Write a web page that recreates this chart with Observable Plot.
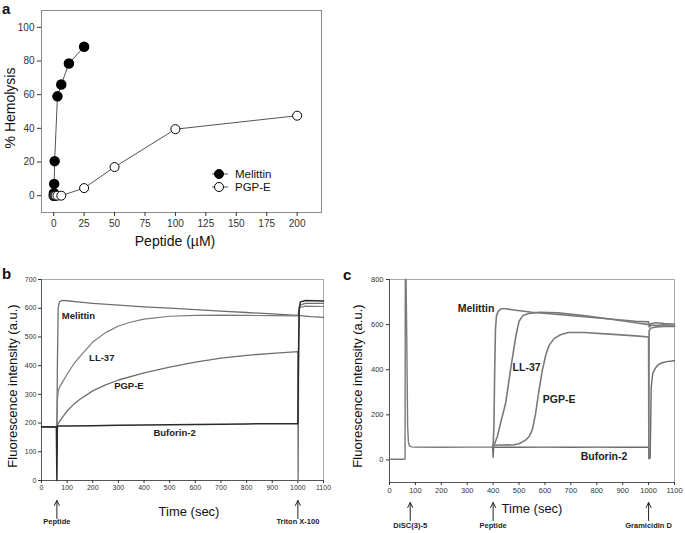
<!DOCTYPE html>
<html><head><meta charset="utf-8">
<script src="https://cdn.jsdelivr.net/npm/d3@7"></script>
<script src="https://cdn.jsdelivr.net/npm/@observablehq/plot@0.6"></script>
<style>
body{margin:0;background:#fff;}
#root{position:relative;width:685px;height:533px;overflow:hidden;background:#fff;}
#root svg{position:absolute;}
</style></head><body><div id="root"></div>
<script>
const FONT = '"Liberation Sans", Arial, Helvetica, sans-serif';

// ---------- Panel a: hemolysis ----------
const aMelX = [0.1, 0.2, 0.4, 0.8, 3.1, 6.25, 12.5, 25];
const aMelY = [0, 1.5, 7, 20.5, 59, 66, 78.5, 88.5];
const aPgpX = [0, 0.8, 1.6, 3.1, 6.25, 25, 50, 100, 200];
const aPgpY = [0, 0, 0, 0, 0, 4.5, 17, 39.5, 47.5];
const aXTicks = [0, 25, 50, 75, 100, 125, 150, 175, 200];
const aYTicks = [0, 20, 40, 60, 80, 100];
const aSeries = ["Melittin", "PGP-E"];

// ---------- Panel b: calcein leakage ----------
const bMelT = [0, 59, 60, 62, 65, 70, 80, 100, 150, 200, 300, 400, 500, 600, 700, 800, 900, 1000, 1050, 1100];
const bMelV = [187, 186, 186, 400, 600, 622, 627, 626, 621, 617, 611, 605, 600, 595, 590, 585, 580, 575, 571, 568];
const bLLT = [0, 59, 60, 62, 65, 70, 80, 100, 125, 150, 200, 250, 300, 350, 400, 500, 600, 700, 800, 900, 1000, 1003, 1008, 1030, 1100];
const bLLV = [187, 186, 190, 280, 310, 325, 340, 370, 405, 432, 482, 515, 538, 552, 562, 572, 575, 576, 575, 574, 573, 590, 603, 607, 606];
const bPgpT = [0, 59, 60, 65, 70, 80, 100, 125, 150, 200, 250, 300, 400, 500, 600, 700, 800, 900, 1000, 1001, 1003, 1006, 1010, 1030, 1100];
const bPgpV = [187, 186, 190, 198, 205, 218, 242, 265, 283, 312, 333, 350, 375, 395, 412, 426, 436, 443, 449, 0, 450, 600, 612, 617, 617];
const bBufT = [0, 58, 60, 62, 100, 200, 300, 400, 500, 600, 700, 800, 900, 1000, 1002, 1005, 1010, 1030, 1100];
const bBufV = [187, 186, 0, 190, 190, 191, 192, 193, 194, 195, 196, 197, 198, 198, 400, 600, 622, 627, 625];
const bXTicks = [0, 100, 200, 300, 400, 500, 600, 700, 800, 900, 1000, 1100];
const bYTicks = [0, 100, 200, 300, 400, 500, 600, 700];
const bLabels = ["Melittin", "LL-37", "PGP-E", "Buforin-2"];
const bLabelT = [144, 235, 341, 519];
const bLabelV = [572, 428, 331, 166];
const bEventT = [60, 1000];
const bEventName = ["Peptide", "Triton X-100"];

// ---------- Panel c: DiSC(3)-5 depolarization ----------
const cBaseT = [0, 59, 60, 61, 64, 67, 70, 73, 77, 85, 100, 200, 300, 398];
const cBaseV = [3, 3, 5, 800, 800, 500, 150, 80, 62, 58, 57, 56, 57, 57];
const cMelT = [398, 400, 403, 406, 409, 413, 420, 430, 450, 480, 550, 650, 750, 850, 950, 1000, 1003, 1010, 1030, 1060, 1100];
const cMelV = [57, 65, 150, 400, 580, 640, 660, 670, 670, 665, 655, 645, 635, 625, 615, 612, 598, 605, 608, 605, 603];
const cLLT = [398, 400, 405, 416, 430, 448, 467, 487, 500, 515, 540, 580, 650, 750, 850, 950, 1000, 1003, 1010, 1030, 1060, 1100];
const cLLV = [57, 65, 70, 103, 170, 250, 398, 545, 615, 640, 650, 655, 652, 640, 625, 608, 600, 590, 598, 596, 600, 595];
const cPgpT = [398, 400, 430, 480, 500, 525, 540, 551, 564, 577, 590, 603, 616, 635, 660, 690, 750, 850, 950, 1000, 1001, 1002, 1005, 1010, 1030, 1060, 1100];
const cPgpV = [57, 65, 66, 67, 72, 88, 105, 133, 206, 309, 398, 464, 508, 538, 555, 565, 565, 558, 550, 545, 5, 570, 580, 585, 590, 592, 592];
const cBufT = [398, 400, 402, 500, 600, 700, 800, 900, 998, 1000, 1002, 1006, 1008, 1010, 1016, 1025, 1035, 1050, 1070, 1100];
const cBufV = [57, 12, 57, 56, 57, 56, 57, 56, 57, 57, 8, 8, 150, 320, 383, 405, 420, 430, 436, 440];
const cXTicks = [0, 100, 200, 300, 400, 500, 600, 700, 800, 900, 1000, 1100];
const cYTicks = [0, 200, 400, 600, 800];
const cLabels = ["Melittin", "LL-37", "PGP-E", "Buforin-2"];
const cLabelT = [334, 529, 655, 828];
const cLabelV = [673, 410, 268, 14];
const cEventT = [80, 400, 1000];
const cEventName = ["DiSC(3)-5", "Peptide", "Gramicidin D"];

// ---------- helpers ----------
const plain = d => String(d);
const pts = (T, V) => T.map((t, i) => ({t, v: V[i]}));
const evts = (T, N) => T.map((t, i) => ({t, name: N[i]}));
const lbls = (N, T, V) => N.map((n, i) => ({name: n, t: T[i], v: V[i]}));
const arrowShape = {
  draw(ctx, l) {
    ctx.moveTo(0, 0); ctx.lineTo(0, -l);
    ctx.moveTo(-2.5, -l + 5); ctx.lineTo(0, -l); ctx.lineTo(2.5, -l + 5);
  }
};
const root = document.getElementById("root");
function place(svg, left, top) {
  svg.style.left = left + "px";
  svg.style.top = top + "px";
  root.appendChild(svg);
}

// ---------- Panel a ----------
const aMel = aMelX.map((x, i) => ({x, y: aMelY[i]}));
const aPgp = aPgpX.map((x, i) => ({x, y: aPgpY[i]}));
const plotA = Plot.plot({
  width: 340, height: 260,
  marginLeft: 41, marginTop: 10, marginRight: 19, marginBottom: 48,
  style: {fontFamily: FONT, background: "transparent", overflow: "visible"},
  x: {domain: [-10, 220]},
  y: {domain: [-10, 110]},
  marks: [
    Plot.frame({stroke: "#8a8a8a"}),
    Plot.axisX({ticks: aXTicks, tickFormat: plain, tickSize: 4, tickPadding: 3, fontSize: 10, label: null, color: "#333"}),
    Plot.axisY({ticks: aYTicks, tickFormat: plain, tickSize: 4, tickPadding: 3, fontSize: 10, label: null, color: "#333"}),
    Plot.line(aMel, {x: "x", y: "y", stroke: "#555", strokeWidth: 1}),
    Plot.dot(aMel, {x: "x", y: "y", r: 4.5, fill: "#000", stroke: "#000"}),
    Plot.line(aPgp, {x: "x", y: "y", stroke: "#555", strokeWidth: 1}),
    Plot.dot(aPgp, {x: "x", y: "y", r: 4.5, fill: "#fff", stroke: "#000", strokeWidth: 1})
  ]
});
place(plotA, 0, 0);

// ---------- Panel b ----------
const lineB = (T, V, c, w) => Plot.line(pts(T, V), {x: "t", y: "v", stroke: c, strokeWidth: w});
const plotB = Plot.plot({
  width: 340, height: 263,
  marginLeft: 41, marginTop: 9, marginRight: 17, marginBottom: 53,
  style: {fontFamily: FONT, background: "transparent", overflow: "visible"},
  x: {domain: [0, 1100]},
  y: {domain: [0, 700]},
  marks: [
    Plot.frame({stroke: "#aaa"}),
    Plot.ruleX([bXTicks[0]], {stroke: "#555"}),
    Plot.ruleY([bYTicks[0]], {stroke: "#555"}),
    Plot.axisX({ticks: bXTicks, tickFormat: plain, tickSize: 3, tickPadding: 2, fontSize: 7, label: null, color: "#333"}),
    Plot.axisY({ticks: bYTicks, tickFormat: plain, tickSize: 3, tickPadding: 2, fontSize: 7, label: null, color: "#333"}),
    lineB(bMelT, bMelV, "#6e6e6e", 1.3),
    lineB(bLLT, bLLV, "#7a7a7a", 1.2),
    lineB(bPgpT, bPgpV, "#6e6e6e", 1.3),
    lineB(bBufT, bBufV, "#2a2a2a", 1.5),
    Plot.text(lbls(bLabels, bLabelT, bLabelV), {x: "t", y: "v", text: "name", fontSize: 9.5, fontWeight: "bold", fill: "#222"}),
    Plot.vector(evts(bEventT, bEventName), {x: "t", frameAnchor: "bottom", dy: 38, length: 18, anchor: "start", shape: arrowShape, stroke: "#222", strokeWidth: 1}),
    Plot.text(evts(bEventT, bEventName), {x: "t", frameAnchor: "bottom", dy: 43, text: "name", fontSize: 7.5, fontWeight: "bold", fill: "#222"})
  ]
});
place(plotB, 0, 270);

// ---------- Panel c ----------
const plotC = Plot.plot({
  width: 345, height: 263,
  marginLeft: 49, marginTop: 9, marginRight: 11, marginBottom: 51,
  style: {fontFamily: FONT, background: "transparent", overflow: "visible"},
  x: {domain: [0, 1100]},
  y: {domain: [-100, 800]},
  marks: [
    Plot.frame({stroke: "#aaa"}),
    Plot.ruleX([cXTicks[0]], {stroke: "#555"}),
    Plot.ruleY([-100], {stroke: "#555"}),
    Plot.axisX({ticks: cXTicks, tickFormat: plain, tickSize: 3, tickPadding: 2, fontSize: 7.5, label: null, color: "#333"}),
    Plot.axisY({ticks: cYTicks, tickFormat: plain, tickSize: 3, tickPadding: 3, fontSize: 7.5, label: null, color: "#333"}),
    lineB(cBaseT, cBaseV, "#7a7a7a", 1.4),
    lineB(cBufT, cBufV, "#6a6a6a", 1.4),
    lineB(cPgpT, cPgpV, "#7a7a7a", 1.6),
    lineB(cLLT, cLLV, "#7a7a7a", 1.6),
    lineB(cMelT, cMelV, "#7a7a7a", 1.6),
    Plot.text(lbls(cLabels, cLabelT, cLabelV), {x: "t", y: "v", text: "name", fontSize: 10.5, fontWeight: "bold", fill: "#222"}),
    Plot.vector(evts(cEventT, cEventName), {x: "t", frameAnchor: "bottom", dy: 38, length: 18, anchor: "start", shape: arrowShape, stroke: "#222", strokeWidth: 1}),
    Plot.text(evts(cEventT, cEventName), {x: "t", frameAnchor: "bottom", dy: 45, text: "name", fontSize: 7.5, fontWeight: "bold", fill: "#222"})
  ]
});
place(plotC, 340, 270);

// ---------- overlay: panel letters, axis titles, legend ----------
const NS = "http://www.w3.org/2000/svg";
const ov = document.createElementNS(NS, "svg");
ov.setAttribute("width", 685); ov.setAttribute("height", 533);
ov.style.left = "0px"; ov.style.top = "0px";
ov.style.fontFamily = FONT;
function txt(x, y, s, size, opts = {}) {
  const t = document.createElementNS(NS, "text");
  t.setAttribute("x", x); t.setAttribute("y", y);
  t.setAttribute("font-size", size);
  t.setAttribute("fill", opts.fill || "#111");
  if (opts.bold) t.setAttribute("font-weight", "bold");
  t.setAttribute("text-anchor", opts.anchor || "middle");
  t.setAttribute("dominant-baseline", opts.baseline || "central");
  if (opts.rotate) t.setAttribute("transform", `rotate(-90 ${x} ${y})`);
  t.textContent = s;
  ov.appendChild(t);
}
txt(2, 14, "a", 15, {bold: true, anchor: "start", baseline: "auto"});
txt(2, 279, "b", 15, {bold: true, anchor: "start", baseline: "auto"});
txt(343, 280, "c", 15, {bold: true, anchor: "start", baseline: "auto"});
txt(175, 241, "Peptide (\u00B5M)", 14);
txt(10, 108, "% Hemolysis", 14, {rotate: true});
txt(189, 511, "Time (sec)", 13);
txt(532, 508, "Time (sec)", 13);
txt(12, 386, "Fluorescence intensity (a.u.)", 13, {rotate: true});
txt(357, 386, "Fluorescence intensity (a.u.)", 13, {rotate: true});
// legend (panel a)
const legY = [174, 187];
aSeries.forEach((name, i) => {
  const l = document.createElementNS(NS, "line");
  l.setAttribute("x1", 212); l.setAttribute("x2", 228);
  l.setAttribute("y1", legY[i]); l.setAttribute("y2", legY[i]);
  l.setAttribute("stroke", "#555");
  ov.appendChild(l);
  const c = document.createElementNS(NS, "circle");
  c.setAttribute("cx", 219); c.setAttribute("cy", legY[i]); c.setAttribute("r", 4.5);
  c.setAttribute("fill", i === 0 ? "#000" : "#fff"); c.setAttribute("stroke", "#000");
  ov.appendChild(c);
  txt(235, legY[i], name, 11.5, {anchor: "start"});
});
root.appendChild(ov);
</script>
</body></html>
